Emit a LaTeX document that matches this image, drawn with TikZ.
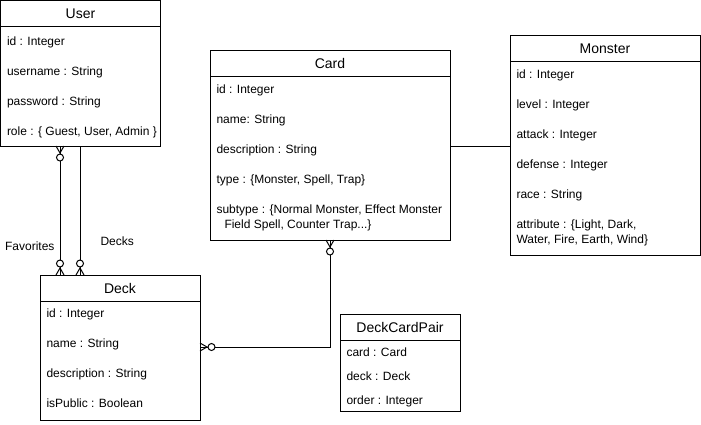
\documentclass[tikz,border=0pt]{standalone}
\usepackage{fontspec}
\setmainfont{Liberation Sans}
\usetikzlibrary{calc}
\begin{document}
\begin{tikzpicture}[x=1pt,y=-1pt,line width=1pt,
  box/.style={draw,anchor=north west,inner sep=0pt,outer sep=0pt},
  attr/.style={anchor=west,inner sep=0pt,yshift=-1.5pt,text height=8.6pt,text depth=2.4pt,font=\fontsize{12}{14}\selectfont},
  head/.style={inner sep=0pt,yshift=-1.5pt,text height=10pt,text depth=2.8pt,font=\fontsize{14}{16}\selectfont},
  lbl/.style={inner sep=0pt,yshift=-1.5pt,text height=8.6pt,text depth=2.4pt,font=\fontsize{12}{14}\selectfont},
  zm/.pic={\draw (0,0) -- (7,0); \draw (0,4) -- (7,0) -- (0,-4); \draw[fill=white] (11.5,0) circle[radius=3.5pt];}
]
\useasboundingbox (0,0) rectangle (701,424);

% User
\node[box,minimum width=160pt,minimum height=145.5pt] (user) at (0.5,0.5) {};
\draw ($(user.north west)+(0,26)$) -- ($(user.north east)+(0,26)$);
\node[head] (userT) at ($(user.north)+(0,13)$) {User};
\node[attr] (userA1) at ($(user.north west)+(6,40)$) {id : Integer};
\node[attr] (userA2) at ($(user.north west)+(6,70)$) {username : String};
\node[attr] (userA3) at ($(user.north west)+(6,100)$) {password : String};
\node[attr] (userA4) at ($(user.north west)+(6,130)$) {role : \{ Guest, User, Admin \}};

% Card
\node[box,minimum width=240pt,minimum height=190pt] (card) at (210,50) {};
\draw ($(card.north west)+(0,26)$) -- ($(card.north east)+(0,26)$);
\node[head] (cardT) at ($(card.north)+(0,13)$) {Card};
\node[attr] (cardA1) at ($(card.north west)+(6,39)$) {id : Integer};
\node[attr] (cardA2) at ($(card.north west)+(6,69)$) {name: String};
\node[attr] (cardA3) at ($(card.north west)+(6,99)$) {description : String};
\node[attr] (cardA4) at ($(card.north west)+(6,129)$) {type : \{Monster, Spell, Trap\}};
\node[attr] (cardA5) at ($(card.north west)+(6,159)$) {subtype : \{Normal Monster, Effect Monster};
\node[attr] (cardA6) at ($(card.north west)+(14,174)$) {Field Spell, Counter Trap...\}};

% Monster
\node[box,minimum width=190pt,minimum height=220pt] (monster) at (510,35) {};
\draw ($(monster.north west)+(0,26)$) -- ($(monster.north east)+(0,26)$);
\node[head] (monsterT) at ($(monster.north)+(0,13)$) {Monster};
\node[attr] (monA1) at ($(monster.north west)+(6,39)$) {id : Integer};
\node[attr] (monA2) at ($(monster.north west)+(6,69)$) {level : Integer};
\node[attr] (monA3) at ($(monster.north west)+(6,99)$) {attack : Integer};
\node[attr] (monA4) at ($(monster.north west)+(6,129)$) {defense : Integer};
\node[attr] (monA5) at ($(monster.north west)+(6,159)$) {race : String};
\node[attr] (monA6) at ($(monster.north west)+(6,189)$) {attribute : \{Light, Dark,};
\node[attr] (monA7) at ($(monster.north west)+(6,204)$) {Water, Fire, Earth, Wind\}};

% Deck
\node[box,minimum width=160pt,minimum height=145pt] (deck) at (40,275) {};
\draw ($(deck.north west)+(0,26)$) -- ($(deck.north east)+(0,26)$);
\node[head] (deckT) at ($(deck.north)+(0,13)$) {Deck};
\node[attr] (deckA1) at ($(deck.north west)+(6,38)$) {id : Integer};
\node[attr] (deckA2) at ($(deck.north west)+(6,68)$) {name : String};
\node[attr] (deckA3) at ($(deck.north west)+(6,98)$) {description : String};
\node[attr] (deckA4) at ($(deck.north west)+(6,128)$) {isPublic : Boolean};

% DeckCardPair
\node[box,minimum width=120pt,minimum height=97pt] (dcp) at (340,314) {};
\draw ($(dcp.north west)+(0,26)$) -- ($(dcp.north east)+(0,26)$);
\node[head] (dcpT) at ($(dcp.north)+(0,13)$) {DeckCardPair};
\node[attr] (dcpA1) at ($(dcp.north west)+(6,38)$) {card : Card};
\node[attr] (dcpA2) at ($(dcp.north west)+(6,62)$) {deck : Deck};
\node[attr] (dcpA3) at ($(dcp.north west)+(6,86)$) {order : Integer};

% Favorites
\coordinate (fav1) at ($(user.south west)+(59.5,0)$);
\coordinate (fav2) at (fav1 |- deck.north);
\draw (fav1) -- (fav2);
\pic[rotate=-90] at (fav1) {zm};
\pic[rotate=90] at (fav2) {zm};
\node[lbl,anchor=east] (favL) at (55,246) {Favorites};

% Decks
\coordinate (dk1) at ($(user.south west)+(79.5,0)$);
\coordinate (dk2) at (dk1 |- deck.north);
\draw (dk1) -- (dk2);
\pic[rotate=90] at (dk2) {zm};
\node[lbl,anchor=west] (dkL) at (100,241) {Decks};

% Card - Deck
\coordinate (cd1) at ($(card.south west)+(120,0)$);
\coordinate (cd2) at ($(deck.north east)+(0,72)$);
\draw (cd1) |- (cd2);
\pic[rotate=-90] at (cd1) {zm};
\pic[rotate=0] at (cd2) {zm};

% Card - Monster
\coordinate (cm1) at ($(card.north east)+(0,96)$);
\coordinate (cm2) at (cm1 -| monster.west);
\draw (cm1) -- (cm2);
\end{tikzpicture}
\end{document}
